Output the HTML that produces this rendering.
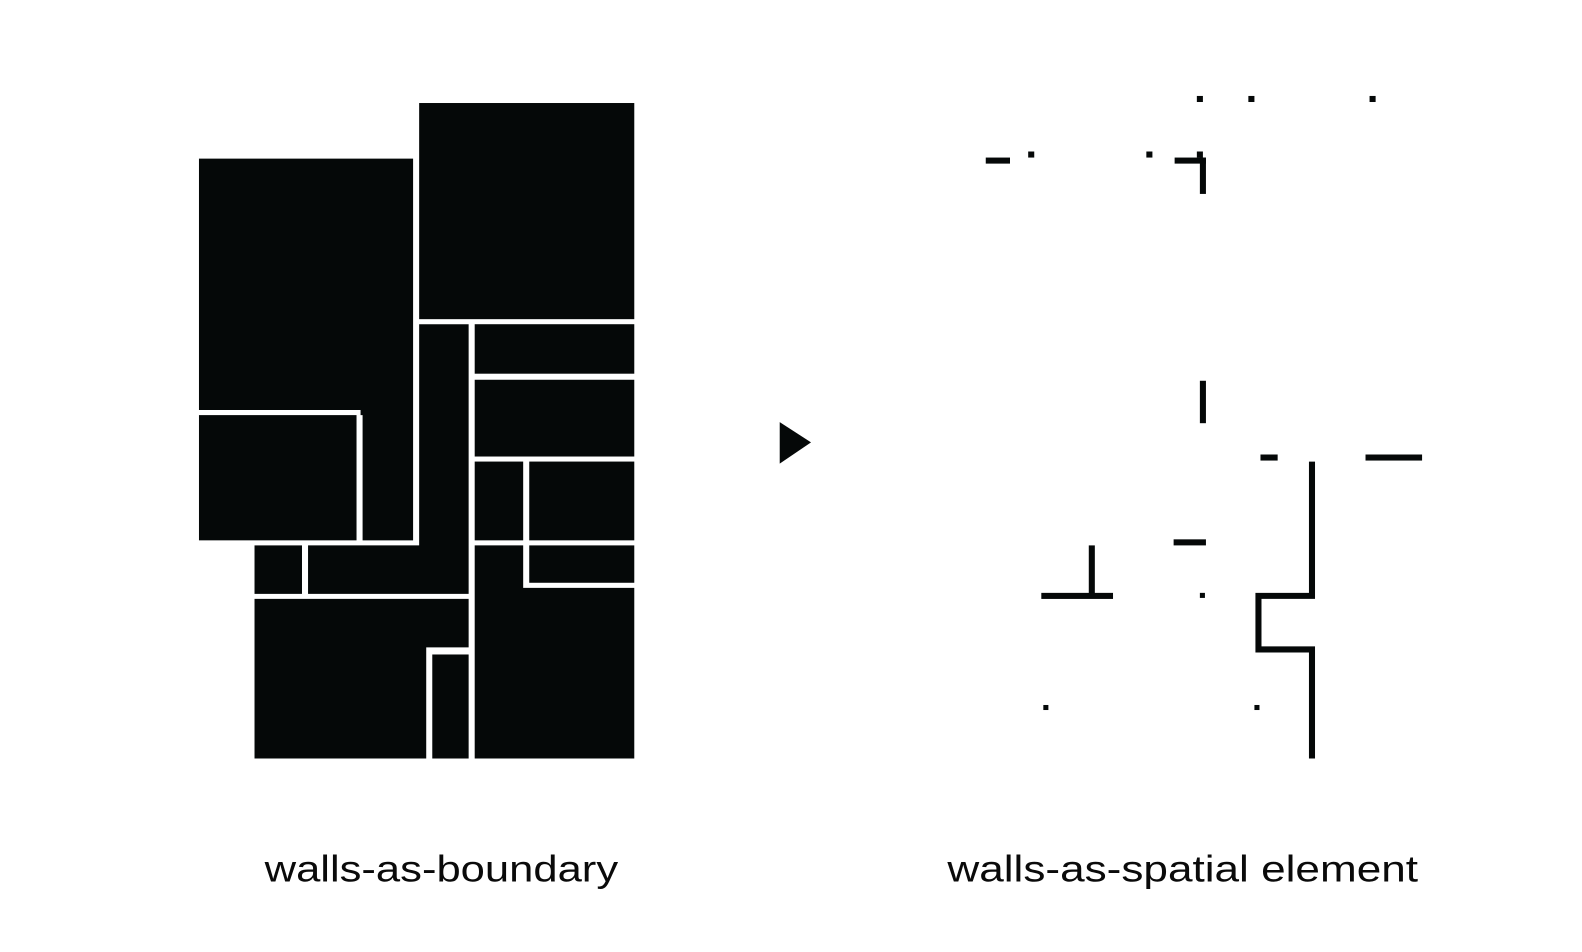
<!DOCTYPE html>
<html><head><meta charset="utf-8"><style>
html,body{margin:0;padding:0;background:#fff;}
svg{display:block;}
text{font-family:"Liberation Sans",sans-serif;font-size:37px;fill:#0a0a0a;}
</style></head><body>
<svg width="1582" height="952" viewBox="0 0 1582 952" xmlns="http://www.w3.org/2000/svg">
<g transform="scale(1.01)" fill="#050808">
<!-- left figure -->
<polygon points="197,157 409,157 409,535 359,535 359,411 357,411 357,406 197,406"/>
<rect x="197" y="411" width="156" height="124"/>
<rect x="415" y="102" width="213" height="214"/>
<polygon points="415,321 464,321 464,588 305,588 305,540 415,540"/>
<rect x="252" y="540" width="47" height="48"/>
<rect x="470" y="321" width="158" height="49"/>
<rect x="470" y="376" width="158" height="76"/>
<rect x="470" y="457" width="48" height="78"/>
<rect x="524" y="457" width="104" height="78"/>
<rect x="524" y="540" width="104" height="37"/>
<polygon points="470,540 518,540 518,582 628,582 628,751 470,751"/>
<polygon points="252,593 464,593 464,641 422,641 422,751 252,751"/>
<rect x="428" y="648" width="36" height="103"/>
<!-- arrow -->
<polygon points="772,418 803,438 772,459"/>
<!-- right figure -->
<rect x="1185" y="95" width="6" height="6"/>
<rect x="1236" y="95" width="6" height="6"/>
<rect x="1356" y="95" width="6" height="6"/>
<rect x="1018" y="150" width="6" height="6"/>
<rect x="1135" y="150" width="6" height="6"/>
<rect x="1185" y="150" width="6" height="6"/>
<rect x="976" y="156" width="24" height="6"/>
<rect x="1163" y="156" width="31" height="6"/>
<rect x="1188" y="156" width="6" height="36"/>
<rect x="1188" y="377" width="6" height="42"/>
<rect x="1248" y="450" width="17" height="6"/>
<rect x="1352" y="450" width="56" height="6"/>
<polygon points="1296,457 1302,457 1302,593 1249,593 1249,640 1302,640 1302,751 1296,751 1296,646 1243,646 1243,587 1296,587"/>
<rect x="1162" y="534" width="32" height="6"/>
<rect x="1078" y="540" width="6" height="50"/>
<rect x="1031" y="587" width="71" height="6"/>
<rect x="1188" y="587" width="5" height="5"/>
<rect x="1033" y="698" width="5" height="5"/>
<rect x="1242" y="698" width="5" height="5"/>
<text x="262" y="873" textLength="350" lengthAdjust="spacingAndGlyphs">walls-as-boundary</text>
<text x="938" y="873" textLength="466" lengthAdjust="spacingAndGlyphs">walls-as-spatial element</text>
</g>
</svg>
</body></html>
